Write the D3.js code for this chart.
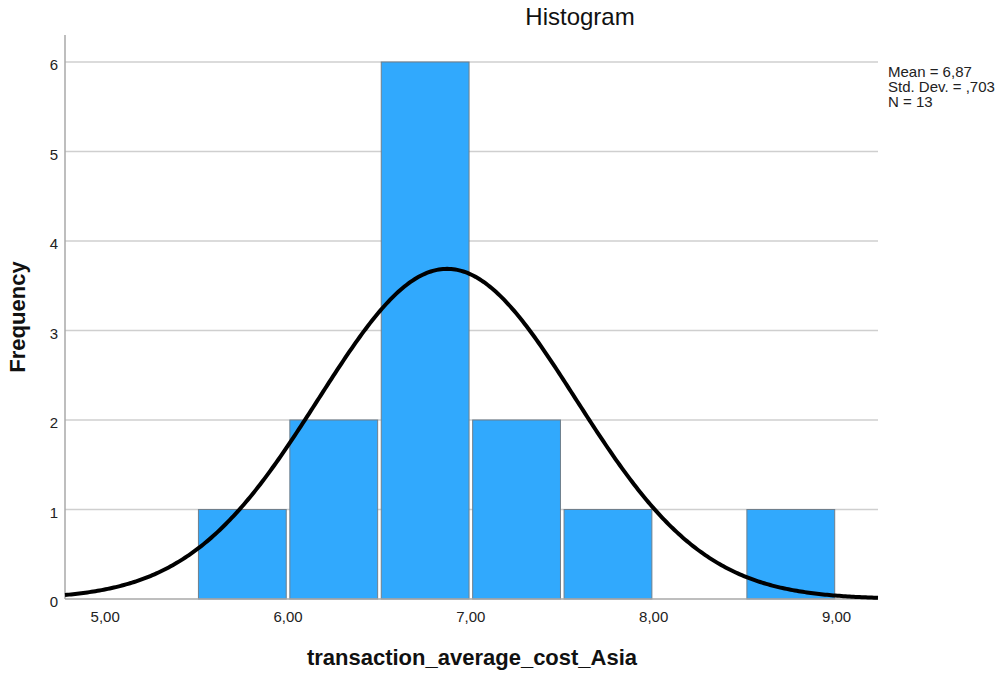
<!DOCTYPE html>
<html>
<head>
<meta charset="utf-8">
<script src="https://cdn.jsdelivr.net/npm/d3@7"></script>
<style>
  html, body { margin: 0; padding: 0; background: #fff; }
  svg { display: block; font-family: "Liberation Sans", Arial, sans-serif; }
</style>
</head>
<body>
<svg id="chart" width="1001" height="673"></svg>
<script>
// Histogram bins (lower edge, width 0.5) and their frequencies
const binStarts = [5.5, 6.0, 6.5, 7.0, 7.5, 8.0, 8.5];
const binCounts = [1, 2, 6, 2, 1, 0, 1];
const binWidth = 0.5;

// Summary statistics
const statMean = 6.87;
const statSd = 0.703;
const statN = 13;
const statLabels = ["Mean = 6,87", "Std. Dev. = ,703", "N = 13"];

// Axis ticks
const xTicks = [5, 6, 7, 8, 9];
const xTickLabels = ["5,00", "6,00", "7,00", "8,00", "9,00"];
const yTicks = [0, 1, 2, 3, 4, 5, 6];

const svg = d3.select("#chart");
const plotLeft = 65, plotRight = 878, plotTop = 35, plotBottom = 599;

const x = d3.scaleLinear().domain([4.78, 9.227]).range([plotLeft, plotRight]);
const y = d3.scaleLinear().domain([0, 6]).range([plotBottom, 62]);

// Horizontal gridlines
svg.append("g").selectAll("line").data(yTicks.filter(d => d > 0)).join("line")
  .attr("x1", plotLeft).attr("x2", plotRight)
  .attr("y1", d => y(d)).attr("y2", d => y(d))
  .attr("stroke", "#cfcfcf").attr("stroke-width", 1.5);

// Bars
const bins = binStarts.map((s, i) => ({ x0: s, x1: s + binWidth, n: binCounts[i] })).filter(b => b.n > 0);
svg.append("g").selectAll("rect").data(bins).join("rect")
  .attr("x", d => x(d.x0) + 1.8)
  .attr("width", d => x(d.x1) - x(d.x0) - 3.6)
  .attr("y", d => y(d.n))
  .attr("height", d => y(0) - y(d.n))
  .attr("fill", "#31a9fd")
  .attr("stroke", "#6f7f8c").attr("stroke-width", 1);

// Axis lines
svg.append("line").attr("x1", plotLeft).attr("x2", plotLeft).attr("y1", plotTop).attr("y2", plotBottom)
  .attr("stroke", "#a8a8a8").attr("stroke-width", 1.5);
svg.append("line").attr("x1", plotLeft).attr("x2", plotRight).attr("y1", plotBottom).attr("y2", plotBottom)
  .attr("stroke", "#a8a8a8").attr("stroke-width", 1.5);

// Normal curve scaled to counts
const scaleFactor = statN * binWidth;
const curvePts = d3.range(0, 401).map(i => {
  const v = x.domain()[0] + (x.domain()[1] - x.domain()[0]) * i / 400;
  const z = (v - statMean) / statSd;
  return [v, scaleFactor * Math.exp(-0.5 * z * z) / (statSd * Math.sqrt(2 * Math.PI))];
});
svg.append("path")
  .datum(curvePts)
  .attr("d", d3.line().x(d => x(d[0])).y(d => y(d[1])))
  .attr("fill", "none").attr("stroke", "#000").attr("stroke-width", 4);

// Tick labels
svg.append("g").selectAll("text").data(yTicks).join("text")
  .attr("x", 58).attr("y", d => y(d) + 8)
  .attr("text-anchor", "end").attr("font-size", 15).attr("fill", "#222")
  .text(d => d);
svg.append("g").selectAll("text").data(xTicks).join("text")
  .attr("x", d => x(d)).attr("y", 622)
  .attr("text-anchor", "middle").attr("font-size", 15).attr("fill", "#222")
  .text((d, i) => xTickLabels[i]);

// Titles
svg.append("text").attr("x", 580).attr("y", 25).attr("text-anchor", "middle")
  .attr("font-size", 24).attr("fill", "#111").text("Histogram");
svg.append("text").attr("x", 472).attr("y", 665).attr("text-anchor", "middle")
  .attr("font-size", 22).attr("font-weight", "bold").attr("fill", "#111")
  .text("transaction_average_cost_Asia");
svg.append("text").attr("transform", "translate(25,317) rotate(-90)").attr("text-anchor", "middle")
  .attr("font-size", 22).attr("font-weight", "bold").attr("fill", "#111")
  .text("Frequency");

// Statistics block
svg.append("g").selectAll("text").data(statLabels).join("text")
  .attr("x", 888).attr("y", (d, i) => 77 + i * 15)
  .attr("font-size", 15).attr("fill", "#222")
  .text(d => d);
</script>
</body>
</html>
